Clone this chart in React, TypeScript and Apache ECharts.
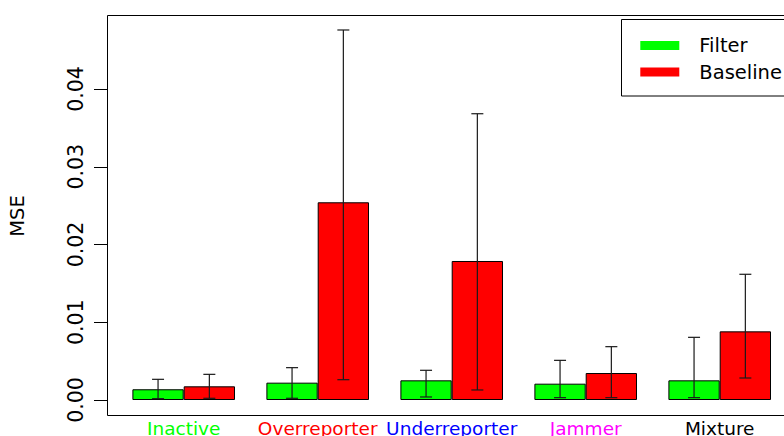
import React, { useEffect, useRef } from "react";
import * as echarts from "echarts";

const categories = ["Inactive", "Overreporter", "Underreporter", "Jammer", "Mixture"];
const categoryColors = ["#00FF00", "#FF0000", "#0000FF", "#FF00FF", "#000000"];
const filterMSE = [0.00138, 0.00223, 0.00253, 0.0021, 0.00253];
const baselineMSE = [0.00176, 0.02543, 0.01788, 0.00347, 0.00883];
const filterLow = [0.00017, 0.00022, 0.00039, 0.0003, 0.0003];
const filterHigh = [0.00266, 0.00416, 0.00382, 0.0051, 0.00806];
const baselineLow = [0.00022, 0.00261, 0.00129, 0.0003, 0.00283];
const baselineHigh = [0.0033, 0.04759, 0.03682, 0.00686, 0.01617];
const yTicks = [0, 0.01, 0.02, 0.03, 0.04];

const FONT = "DejaVu Sans";
const BAR_W = 51.3;

function errSeries(name: string, lows: number[], highs: number[], dir: number) {
  return {
    type: "custom",
    name,
    clip: false,
    z: 5,
    encode: { x: 0, y: [1, 2] },
    data: categories.map((_, i) => [i, lows[i], highs[i]]),
    renderItem: (params: any, api: any) => {
      const i = api.value(0);
      const top = api.coord([i, api.value(2)]);
      const bot = api.coord([i, api.value(1)]);
      const x = top[0] + dir * BAR_W / 2;
      const cap = 6;
      const style = { stroke: "#1a1a1a", lineWidth: 1.2 };
      return {
        type: "group",
        children: [
          { type: "line", shape: { x1: x, y1: top[1], x2: x, y2: bot[1] }, style },
          { type: "line", shape: { x1: x - cap, y1: top[1], x2: x + cap, y2: top[1] }, style },
          { type: "line", shape: { x1: x - cap, y1: bot[1], x2: x + cap, y2: bot[1] }, style },
        ],
      };
    },
  };
}

export default function App() {
  const ref = useRef<HTMLDivElement>(null);
  useEffect(() => {
    if (!ref.current) return;
    const chart = echarts.init(ref.current, null, { renderer: "svg" });
    const rich: any = {};
    categories.forEach((c, i) => {
      rich["c" + i] = { color: categoryColors[i], fontSize: 18.5, fontFamily: FONT };
    });
    chart.setOption({
      animation: false,
      backgroundColor: "#ffffff",
      grid: {
        left: 116.7,
        top: 15,
        width: 670,
        height: 400,
        containLabel: false,
        outerBoundsMode: "none",
      },
      legend: {
        data: ["Filter", "Baseline"],
        orient: "vertical",
        left: 640.3,
        top: 35.5,
        padding: 0,
        itemGap: 6.5,
        itemWidth: 39,
        itemHeight: 9,
        icon: "rect",
        itemStyle: { borderWidth: 0 },
        z: 10,
        textStyle: {
          fontFamily: FONT,
          fontSize: 19.5,
          lineHeight: 19,
          color: "#000",
          padding: [0, 0, 0, 15],
        },
      },
      xAxis: {
        type: "category",
        data: categories,
        axisLine: { show: false },
        axisTick: { show: false },
        splitLine: { show: false },
        axisLabel: {
          margin: 4,
          interval: 0,
          formatter: (v: string) => {
            const i = categories.indexOf(v);
            return "{c" + i + "|" + v + "}";
          },
          rich,
        },
      },
      yAxis: {
        type: "value",
        min: -0.001929,
        max: 0.049518,
        offset: 9.7,
        axisLine: { show: false },
        splitLine: { show: false },
        axisTick: {
          show: true,
          length: 13,
          customValues: yTicks,
          lineStyle: { color: "#000", width: 1 },
        },
        axisLabel: {
          customValues: yTicks,
          rotate: 90,
          margin: 20.5,
          fontFamily: FONT,
          fontSize: 20.5,
          color: "#000",
          formatter: (v: number) => v.toFixed(2),
        },
      },
      graphic: [
        {
          type: "rect",
          z: 1,
          shape: { x: 107.5, y: 15.5, width: 700, height: 400 },
          style: { fill: "none", stroke: "#000", lineWidth: 1 },
        },
        {
          type: "rect",
          z: 1,
          shape: { x: 621.5, y: 19.5, width: 200, height: 76.5 },
          style: { fill: "#fff", stroke: "#000", lineWidth: 1 },
        },
        {
          type: "text",
          x: 17.5,
          y: 216,
          rotation: Math.PI / 2,
          style: {
            text: "MSE",
            fontFamily: FONT,
            fontSize: 19.5,
            fill: "#000",
            align: "center",
            verticalAlign: "middle",
          },
        },
      ],
      series: [
        {
          type: "bar",
          name: "Filter",
          data: filterMSE,
          barWidth: BAR_W,
          barGap: "0%",
          itemStyle: { color: "#00FF00", borderColor: "#000", borderWidth: 1 },
        },
        {
          type: "bar",
          name: "Baseline",
          data: baselineMSE,
          barWidth: BAR_W,
          barGap: "0%",
          itemStyle: { color: "#FF0000", borderColor: "#000", borderWidth: 1 },
        },
        errSeries("Filter error", filterLow, filterHigh, -1),
        errSeries("Baseline error", baselineLow, baselineHigh, 1),
      ],
    });
    return () => chart.dispose();
  }, []);
  return (
    <div
      ref={ref}
      style={{ position: "fixed", left: 0, top: 0, width: 784, height: 436, background: "#fff" }}
    />
  );
}
